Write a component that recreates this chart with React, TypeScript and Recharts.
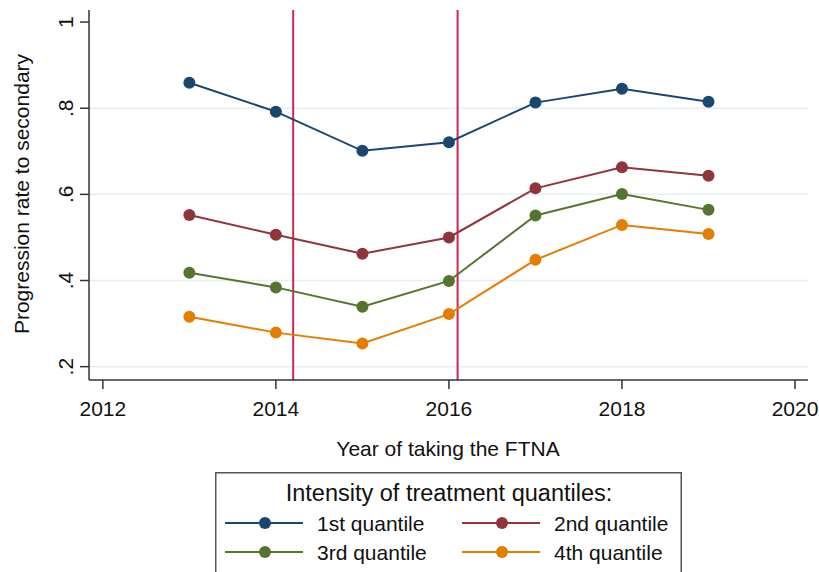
import React from 'react';
import { LineChart, Line, XAxis, YAxis, CartesianGrid, ReferenceLine } from 'recharts';

const years = [2013, 2014, 2015, 2016, 2017, 2018, 2019];
const q1 = [0.859, 0.792, 0.701, 0.721, 0.813, 0.845, 0.815];
const q2 = [0.552, 0.506, 0.462, 0.5, 0.614, 0.663, 0.643];
const q3 = [0.418, 0.384, 0.339, 0.399, 0.551, 0.601, 0.564];
const q4 = [0.316, 0.279, 0.254, 0.322, 0.448, 0.529, 0.508];
const xTicks = [2012, 2014, 2016, 2018, 2020];
const yTicks = [0.2, 0.4, 0.6, 0.8, 1];
const refYears = [2014.2, 2016.1];
const seriesNames = ['1st quantile', '2nd quantile', '3rd quantile', '4th quantile'];
const seriesKeys = ['q1', 'q2', 'q3', 'q4'];
const colors = ['#1a476f', '#90353b', '#55752f', '#e37e00'];
const legendTitle = 'Intensity of treatment quantiles:';
const xTitle = 'Year of taking the FTNA';
const yTitle = 'Progression rate to secondary';

const data = years.map((y, i) => ({ year: y, q1: q1[i], q2: q2[i], q3: q3[i], q4: q4[i] }));

const FONT = '"Liberation Sans", Arial, sans-serif';

const fmtY = (v: number) => (v === 1 ? '1' : String(Math.round(v * 10) / 10).replace(/^0/, ''));

const YTick = (props: any) => {
  const { x, y, payload } = props;
  const cx = x - 5;
  return (
    <text x={cx} y={y} transform={`rotate(-90, ${cx}, ${y})`} textAnchor="middle" fontSize={21} fontFamily={FONT} fill="#111">
      {fmtY(payload.value)}
    </text>
  );
};

const XTick = (props: any) => {
  const { x, y, payload } = props;
  return (
    <text x={x} y={y + 25} textAnchor="middle" fontSize={21} fontFamily={FONT} fill="#111">
      {payload.value}
    </text>
  );
};

const LegendBox = () => {
  const rows = [
    [0, 1],
    [2, 3],
  ];
  const colX = [10, 247];
  return (
    <svg width={467} height={104} style={{ display: 'block' }}>
      <rect x={0.75} y={0.75} width={465.5} height={110} fill="#fff" stroke="#555" strokeWidth={1.5} />
      <text x={234} y={29} textAnchor="middle" fontSize={23.5} fontFamily={FONT} fill="#111">
        {legendTitle}
      </text>
      {rows.map((r, ri) =>
        r.map((si, ci) => {
          const yy = 51 + ri * 29;
          const x0 = colX[ci];
          return (
            <g key={si}>
              <line x1={x0} y1={yy} x2={x0 + 78} y2={yy} stroke={colors[si]} strokeWidth={2} />
              <circle cx={x0 + 40} cy={yy} r={6} fill={colors[si]} />
              <text x={x0 + 92} y={yy + 7.5} fontSize={21} fontFamily={FONT} fill="#111">
                {seriesNames[si]}
              </text>
            </g>
          );
        })
      )}
    </svg>
  );
};

export default function App() {
  return (
    <div style={{ position: 'absolute', left: 0, top: 0, width: 819, height: 572, background: '#fff', overflow: 'hidden' }}>
      <LineChart width={819} height={572} data={data} margin={{ top: 10, right: 11, bottom: 162, left: 29 }}>
        <CartesianGrid vertical={false} horizontalValues={[0.2, 0.4, 0.6, 0.8]} stroke="#e6eef1" strokeWidth={1.5} />
        <XAxis
          dataKey="year"
          type="number"
          domain={[2011.84, 2020.15]}
          ticks={xTicks}
          tick={<XTick />}
          tickLine={{ stroke: '#333', strokeWidth: 1.5 }}
          tickSize={9}
          axisLine={{ stroke: '#333', strokeWidth: 1.5 }}
          height={30}
          allowDataOverflow
        />
        <YAxis
          type="number"
          domain={[0.169, 1.028]}
          ticks={yTicks}
          tick={<YTick />}
          tickLine={{ stroke: '#333', strokeWidth: 1.5 }}
          tickSize={9}
          axisLine={{ stroke: '#333', strokeWidth: 1.5 }}
          width={60}
          allowDataOverflow
        />
        {refYears.map((ry) => (
          <ReferenceLine key={ry} x={ry} stroke="#d02452" strokeWidth={2} />
        ))}
        {seriesKeys.map((k, i) => (
          <Line
            key={k}
            dataKey={k}
            name={seriesNames[i]}
            stroke={colors[i]}
            strokeWidth={2}
            dot={{ r: 6, fill: colors[i], stroke: colors[i], strokeWidth: 0 }}
            activeDot={false}
            isAnimationActive={false}
          />
        ))}
      </LineChart>
      <div
        style={{
          position: 'absolute',
          left: 22,
          top: 194,
          transform: 'translate(-50%, -50%) rotate(-90deg)',
          whiteSpace: 'nowrap',
          fontFamily: FONT,
          fontSize: 21,
          lineHeight: '24px',
          color: '#111',
        }}
      >
        {yTitle}
      </div>
      <div
        style={{
          position: 'absolute',
          left: 448,
          top: 449,
          transform: 'translate(-50%, -50%)',
          whiteSpace: 'nowrap',
          fontFamily: FONT,
          fontSize: 21,
          lineHeight: '24px',
          color: '#111',
        }}
      >
        {xTitle}
      </div>
      <div style={{ position: 'absolute', left: 215, top: 472 }}>
        <LegendBox />
      </div>
    </div>
  );
}
